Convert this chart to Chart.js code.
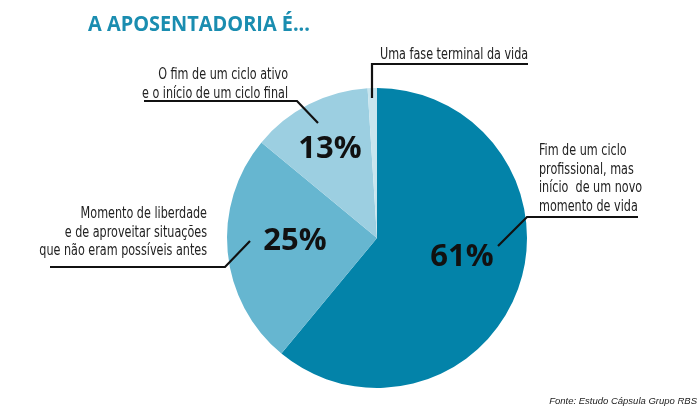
<!DOCTYPE html>
<html><head><meta charset="utf-8">
<script src="https://cdn.jsdelivr.net/npm/chart.js@4/dist/chart.umd.min.js"></script>
<style>html,body{margin:0;padding:0;background:#fff}canvas{display:block}</style>
</head><body>
<canvas id="c" width="700" height="408"></canvas>
<script>
const categories = [
  "Fim de um ciclo profissional, mas início de um novo momento de vida",
  "Momento de liberdade e de aproveitar situações que não eram possíveis antes",
  "O fim de um ciclo ativo e o início de um ciclo final",
  "Uma fase terminal da vida"
];
const values = [61, 25, 13, 1];
const percentLabels = ["61%", "25%", "13%", ""];
const labelLines = [
  ["Fim de um ciclo", "profissional, mas", "início  de um novo", "momento de vida"],
  ["Momento de liberdade", "e de aproveitar situações", "que não eram possíveis antes"],
  ["O fim de um ciclo ativo", "e o início de um ciclo final"],
  ["Uma fase terminal da vida"]
];
const colors = ["#0383a9", "#66b6d0", "#9ccfe1", "#c8e5ee"];

// annotation layout (styling only)
const annot = [
  {pct:[462,266], text:{x:539, y:155, align:"left"}, line:[[498,246],[527,217],[638,217]]},
  {pct:[295,250], text:{x:207, y:218, align:"right"}, line:[[250,241],[225,267],[50,267]]},
  {pct:[330,158], text:{x:288, y:79, align:"right"}, line:[[318,123],[297,101],[144,101]]},
  {pct:null, text:{x:380, y:59, align:"left"}, line:[[372,98],[372,64],[528,64]]}
];
const labelFont = '15px "Liberation Sans Narrow", "DejaVu Sans Condensed", "Roboto Condensed", sans-serif';
const squeeze = 0.83;

function fillSqueezed(ctx, t, x, y, f) {
  const w = ctx.measureText(t).width;
  ctx.fillText(t, x, y, w * f);
}

const overlay = {
  id: "overlay",
  afterDraw(chart) {
    const ctx = chart.ctx;
    ctx.save();
    // title
    ctx.fillStyle = "#1a8db0";
    ctx.font = 'bold 22px "Open Sans", sans-serif';
    ctx.textAlign = "left"; ctx.textBaseline = "alphabetic";
    fillSqueezed(ctx, "A APOSENTADORIA É...", 88, 31, 0.905);
    // source
    ctx.fillStyle = "#222";
    ctx.font = 'italic 9.5px "Liberation Sans", Arial, sans-serif';
    ctx.textAlign = "right";
    ctx.fillText("Fonte: Estudo Cápsula Grupo RBS", 697, 404);
    // labels
    annot.forEach((a, i) => {
      ctx.strokeStyle = "#111"; ctx.lineWidth = 2.2;
      ctx.beginPath();
      a.line.forEach((p, k) => k ? ctx.lineTo(p[0], p[1]) : ctx.moveTo(p[0], p[1]));
      ctx.stroke();
      ctx.fillStyle = "#222";
      ctx.font = labelFont;
      ctx.textAlign = a.text.align;
      labelLines[i].forEach((t, k) => fillSqueezed(ctx, t, a.text.x, a.text.y + k * 18.5, squeeze));
      if (a.pct && percentLabels[i]) {
        ctx.fillStyle = "#111";
        ctx.font = 'bold 31px "Open Sans", sans-serif';
        ctx.textAlign = "center";
        ctx.fillText(percentLabels[i], a.pct[0], a.pct[1]);
      }
    });
    ctx.restore();
  }
};

new Chart(document.getElementById("c"), {
  type: "pie",
  data: {
    labels: categories,
    datasets: [{ data: values, backgroundColor: colors, borderWidth: 0 }]
  },
  options: {
    responsive: false,
    devicePixelRatio: 1,
    animation: false,
    layout: { padding: { left: 227, right: 173, top: 88, bottom: 20 } },
    plugins: { legend: { display: false }, tooltip: { enabled: false }, title: { display: false } }
  },
  plugins: [overlay]
});
</script>
</body></html>
